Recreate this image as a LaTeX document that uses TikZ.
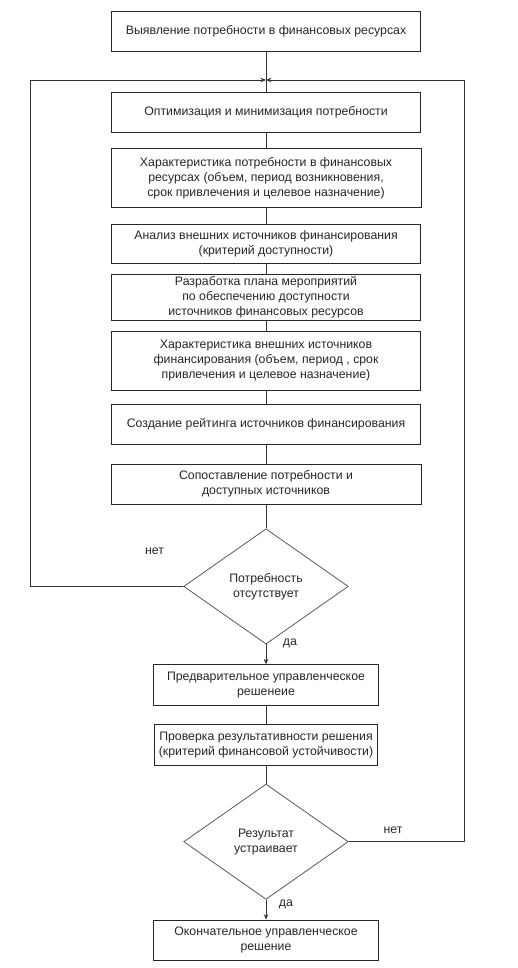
\documentclass[tikz,border=0pt]{standalone}
\usepackage{fontspec}
\setmainfont{Liberation Sans}
\usetikzlibrary{shapes.geometric,arrows.meta}
\begin{document}
\begin{tikzpicture}[x=1pt,y=-1pt,
  every node/.style={font=\fontsize{12.3}{15}\selectfont, text=black!85},
  box/.style={draw=black!85, line width=0.8pt, rectangle, inner sep=0pt, align=center},
  dec/.style={draw=black!65, line width=0.8pt, diamond, aspect=1.427, inner sep=0pt, align=center, minimum width=164.6pt, minimum height=115.3pt},
  lab/.style={inner sep=0pt},
  line/.style={draw=black!80, line width=0.8pt},
  arr/.style={line, -{Stealth[length=5.5pt,width=4.5pt]}}]
\useasboundingbox (0,0) rectangle (517,968);
\node[box, minimum width=309pt, minimum height=40pt] (b1) at (266,31) {Выявление потребности в финансовых ресурсах};
\node[box, minimum width=309pt, minimum height=39.6pt] (b2) at (266,112.5) {Оптимизация и минимизация потребности};
\node[box, minimum width=310pt, minimum height=59pt] (b3) at (266,177.8) {Характеристика потребности в финансовых\\ресурсах (объем, период возникновения,\\срок привлечения и целевое назначение)};
\node[box, minimum width=309pt, minimum height=39.3pt] (b4) at (266,243.7) {Анализ внешних источников финансирования\\(критерий доступности)};
\node[box, minimum width=309pt, minimum height=46pt] (b5) at (266,297) {Разработка плана мероприятий\\по обеспечению доступности\\источников финансовых ресурсов};
\node[box, minimum width=309pt, minimum height=58.3pt] (b6) at (266,360.8) {Характеристика внешних источников\\финансирования (объем, период , срок\\привлечения и целевое назначение)};
\node[box, minimum width=309pt, minimum height=39.7pt] (b7) at (266,424.2) {Создание рейтинга источников финансирования};
\node[box, minimum width=310pt, minimum height=40.3pt] (b8) at (266,484.2) {Сопоставление потребности и\\доступных источников};
\node[dec] (d1) at (266,586.4) {Потребность\\отсутствует};
\node[box, minimum width=225pt, minimum height=40.3pt] (b9) at (266,684.9) {Предварительное управленческое\\решенеие};
\node[box, minimum width=222.7pt, minimum height=40.7pt] (b10) at (266,744.7) {Проверка результативности решения\\(критерий финансовой устойчивости)};
\node[dec] (d2) at (266,841.7) {Результат\\устраивает};
\node[box, minimum width=225pt, minimum height=40pt] (b11) at (266,940) {Окончательное управленческое\\решение};
\coordinate (j) at (266,80);
\coordinate (lc) at (30.7,0);
\coordinate (rc) at (464,0);
\node[lab] (n1) at (154.5,551) {нет};
\node[lab] (y1) at (290,643) {да};
\node[lab] (n2) at (393,830) {нет};
\node[lab] (y2) at (286,904.5) {да};
\draw[line] (b1.south) -- (b2.north);
\draw[line] (b2) -- (b3);
\draw[line] (b3) -- (b4);
\draw[line] (b4) -- (b5);
\draw[line] (b5) -- (b6);
\draw[line] (b6) -- (b7);
\draw[line] (b7) -- (b8);
\draw[line] (b8) -- (d1.north);
\draw[arr] (d1.south) -- (b9.north);
\draw[line] (b9) -- (b10);
\draw[line] (b10.south) -- (d2.north);
\draw[arr] (d2.south) -- (b11.north);
\draw[arr] (d1.west) -| (lc |- d1.west) |- (j);
\draw[arr] (d2.east) -| (rc |- d2.east) |- (j);
\end{tikzpicture}
\end{document}
